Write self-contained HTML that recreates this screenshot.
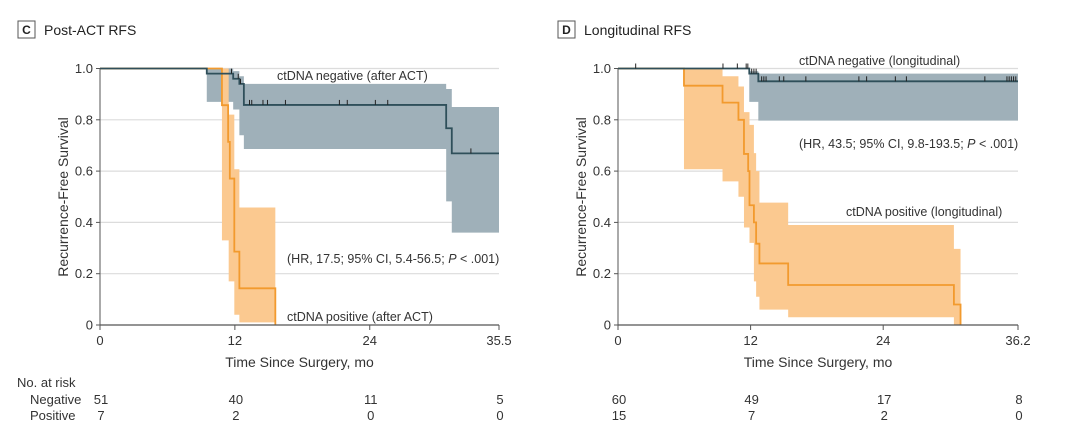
<!DOCTYPE html>
<html><head><meta charset="utf-8"><style>
body{margin:0;background:#fff}
svg{display:block;font-family:"Liberation Sans",sans-serif}
</style></head><body>
<svg id="s" width="1080" height="434"></svg>
<script>
// ---- Panel C data ----
const cNegSteps=[[0,1],[9.5,0.98],[11.85,0.96],[12.4,0.94],[12.8,0.858],[30.8,0.767],[31.3,0.669],[35.5,0.669]];
const cNegCI=[[9.5,0.87,1.0],[11.85,0.84,0.99],[12.4,0.74,0.97],[12.8,0.686,0.94],[30.8,0.482,0.92],[31.3,0.36,0.85],[35.5,0.36,0.85]];
const cPosSteps=[[0,1],[10.85,0.857],[11.4,0.714],[11.55,0.571],[11.95,0.286],[12.4,0.143],[15.6,0],[15.6,0]];
const cPosCI=[[10.85,0.33,1.0],[11.45,0.17,0.82],[11.95,0.04,0.607],[12.4,0.01,0.458],[15.6,0.01,0.458]];
const cNegCensor=[11.7,12.3,12.5,13.3,13.5,14.5,14.9,16.5,21.3,22.0,24.5,25.6,33.0];
const cXTicks=[0,12,24,35.5];
const cRiskNeg=["51","40","11","5"];
const cRiskPos=["7","2","0","0"];
// ---- Panel D data ----
const dNegSteps=[[0,1],[11.88,0.98],[12.7,0.95],[36.2,0.95]];
const dNegCI=[[11.88,0.87,0.99],[12.7,0.797,0.98],[36.2,0.797,0.98]];
const dPosSteps=[[0,1],[5.97,0.933],[9.46,0.867],[10.9,0.8],[11.4,0.667],[11.78,0.6],[11.9,0.467],[12.3,0.4],[12.5,0.317],[12.8,0.24],[15.4,0.156],[30.4,0.08],[31.0,0],[31.0,0]];
const dPosCI=[[5.97,0.607,1.0],[9.46,0.56,0.97],[10.9,0.5,0.93],[11.4,0.38,0.83],[11.9,0.32,0.78],[12.3,0.17,0.67],[12.5,0.11,0.6],[12.8,0.06,0.477],[15.4,0.03,0.39],[30.4,0.0,0.297],[31.0,0.0,0.297]];
const dNegCensor=[1.6,9.5,10.8,11.6,11.75,12.1,12.3,12.5,13.0,13.2,13.4,14.6,15.0,17.0,21.8,22.5,25.1,26.1,33.2,35.2,35.4,35.6,35.8,36.0];
const dXTicks=[0,12,24,36.2];
const dRiskNeg=["60","49","17","8"];
const dRiskPos=["15","7","2","0"];
const yTicks=[0,0.2,0.4,0.6,0.8,1.0];
const yTickLabels=["0","0.2","0.4","0.6","0.8","1.0"];

const NS="http://www.w3.org/2000/svg";
const svg=document.getElementById('s');
function mk(tag,attrs,parent,text){const e=document.createElementNS(NS,tag);for(const k in attrs)e.setAttribute(k,attrs[k]);if(text!==undefined)e.textContent=text;(parent||svg).appendChild(e);return e;}

function panel(o){
  const g=mk('g',{});
  
  
  const X=t=>o.x0+t/o.tmax*(o.x1-o.x0);
  const Y=v=>325-v*256.5;
  const b=mk('rect',{x:o.bx,y:21,width:17,height:17,fill:'#fff',stroke:'#555','stroke-width':1},g);
  
  const bl=mk('text',{x:o.bx+8.5,y:34,'text-anchor':'middle','font-size':12,'font-weight':'bold',fill:'#222'},g,o.letter);
  
  const tt=mk('text',{x:o.bx+26,y:35,'font-size':14,fill:'#222'},g,o.title);
  
  yTicks.forEach((v,i)=>{
    if(v>0){const gl=mk('line',{x1:X(0),x2:X(o.tmax),y1:Y(v),y2:Y(v),stroke:'#dcdcdc','stroke-width':1.2},g);
    }
    const tk=mk('line',{x1:X(0)-4,x2:X(0),y1:Y(v),y2:Y(v),stroke:'#555'},g);
    
    const tl=mk('text',{x:X(0)-7,y:Y(v)+4.5,'text-anchor':'end','font-size':13,fill:'#333'},g,yTickLabels[i]);
    
  });
  function band(ci,fill,nm){
    const pts=[];
    for(let i=0;i<ci.length-1;i++){const a=ci[i],n=ci[i+1];
      pts.push(`${X(a[0])},${Y(a[2])}`,`${X(n[0])},${Y(a[2])}`);}
    for(let i=ci.length-2;i>=0;i--){const a=ci[i],n=ci[i+1];
      pts.push(`${X(n[0])},${Y(a[1])}`,`${X(a[0])},${Y(a[1])}`);}
    const p=mk('polygon',{points:pts.join(' '),fill:fill},g);
    
  }
  function step(st,col,nm){
    let d=`M${X(st[0][0])},${Y(st[0][1])}`;
    for(let i=1;i<st.length;i++){d+=` H${X(st[i][0])} V${Y(st[i][1])}`;}
    const p=mk('path',{d:d,fill:'none',stroke:col,'stroke-width':1.8},g);
    
  }
  function survAt(st,t){let v=1;for(const s of st){if(s[0]<=t)v=s[1];}return v;}
  band(o.negCI,'#9fb0b9','negative-ci-band');
  band(o.posCI,'#fbc990','positive-ci-band');
  step(o.pos,'#f29a2e','positive-curve');
  step(o.neg,'#2f4f5a','negative-curve');
  o.cens.forEach(t=>{const y=Y(survAt(o.neg,t));
    const c=mk('line',{x1:X(t),x2:X(t),y1:y-5,y2:y,stroke:'#222','stroke-width':1},g);
    });
  const ya=mk('line',{x1:X(0),x2:X(0),y1:Y(1),y2:Y(0),stroke:'#555'},g);
  
  const xa=mk('line',{x1:X(0),x2:X(o.tmax),y1:Y(0),y2:Y(0),stroke:'#555','stroke-width':1.2},g);
  
  o.xt.forEach((t,i)=>{
    const tk=mk('line',{x1:X(t),x2:X(t),y1:Y(0),y2:Y(0)+5,stroke:'#555'},g);
    
    const tl=mk('text',{x:X(t),y:345,'text-anchor':'middle','font-size':13,fill:'#333'},g,String(t));
    
    const r1=mk('text',{x:X(t)+1,y:404,'text-anchor':'middle','font-size':13,fill:'#333'},g,o.rn[i]);
    
    const r2=mk('text',{x:X(t)+1,y:420,'text-anchor':'middle','font-size':13,fill:'#333'},g,o.rp[i]);
    
  });
  const xt=mk('text',{x:(X(0)+X(o.tmax))/2,y:367,'text-anchor':'middle','font-size':14,fill:'#333'},g,'Time Since Surgery, mo');
  
  const yt=mk('text',{x:0,y:0,'text-anchor':'middle','font-size':14,fill:'#333',transform:`translate(${o.ytx},197) rotate(-90)`},g,'Recurrence-Free Survival');
  
  o.labels.forEach(l=>{const e=mk('text',{x:l[0],y:l[1],'font-size':12.5,fill:'#333'},g);
    e.innerHTML=l[2];});
}
panel({name:'panel-c',letter:'C',title:'Post-ACT RFS',bx:18,x0:100,x1:499,tmax:35.5,ytx:68,
  neg:cNegSteps,negCI:cNegCI,pos:cPosSteps,posCI:cPosCI,cens:cNegCensor,xt:cXTicks,rn:cRiskNeg,rp:cRiskPos,
  labels:[[277,80,'ctDNA negative (after ACT)','negative-label'],[287,263,'(HR, 17.5; 95% CI, 5.4-56.5; <tspan font-style="italic">P</tspan> &lt; .001)','hr-annotation'],[287,321,'ctDNA positive (after ACT)','positive-label']]});
panel({name:'panel-d',letter:'D',title:'Longitudinal RFS',bx:558,x0:618,x1:1018,tmax:36.2,ytx:586,
  neg:dNegSteps,negCI:dNegCI,pos:dPosSteps,posCI:dPosCI,cens:dNegCensor,xt:dXTicks,rn:dRiskNeg,rp:dRiskPos,
  labels:[[799,65,'ctDNA negative (longitudinal)','negative-label'],[799,148,'(HR, 43.5; 95% CI, 9.8-193.5; <tspan font-style="italic">P</tspan> &lt; .001)','hr-annotation'],[846,216,'ctDNA positive (longitudinal)','positive-label']]});
const rt=[['No. at risk',17,387,'risk-table-title'],['Negative',30,404,'risk-row-negative'],['Positive',30,420,'risk-row-positive']];
rt.forEach(r=>{const e=mk('text',{x:r[1],y:r[2],'font-size':13,fill:'#333'},svg,r[0]);
  });
</script>
</body></html>
